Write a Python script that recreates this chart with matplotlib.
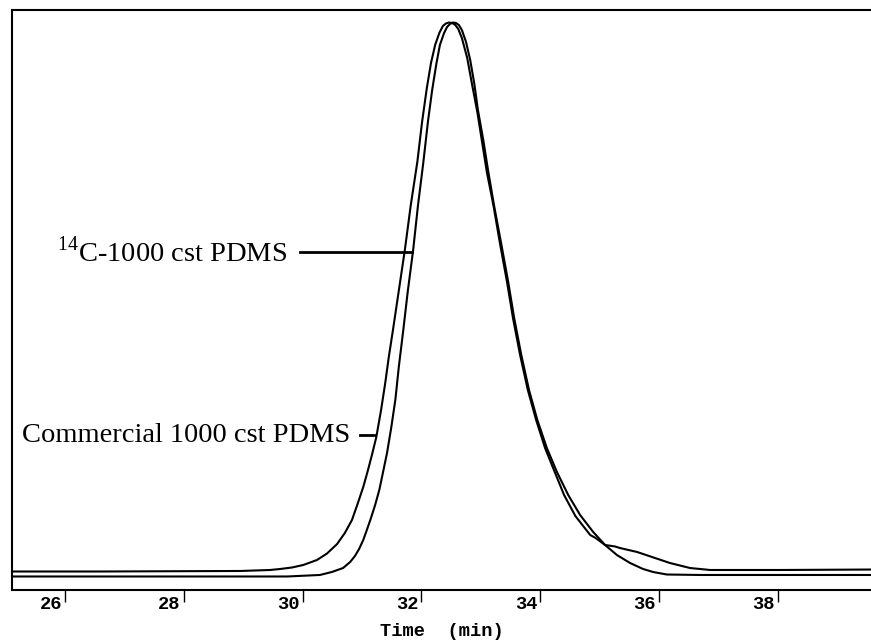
import matplotlib
matplotlib.use('Agg')
import matplotlib.pyplot as plt

# ================= DATA =================
# Commercial 1000 cst PDMS - broader trace, upper baseline, shoulder ~35.5 min
time_comm = [25.11, 26.59, 28.95, 29.45, 29.62, 29.82, 30.01, 30.24, 30.41, 30.58,
             30.71, 30.83, 30.93, 31.02, 31.10, 31.17, 31.24, 31.32, 31.39, 31.45,
             31.52, 31.62, 31.72, 31.82, 31.93, 32.01, 32.09, 32.16, 32.23, 32.30,
             32.36, 32.41, 32.46, 32.52, 32.57, 32.62, 32.68, 32.77, 32.85, 32.94,
             33.02, 33.10, 33.21, 33.32, 33.44, 33.54, 33.66, 33.79, 33.93, 34.08,
             34.25, 34.40, 34.59, 34.84, 34.93, 35.09, 35.26, 35.34, 35.63, 35.93,
             36.18, 36.52, 36.86, 38.04, 39.57]
resp_comm = [3.19, 3.19, 3.28, 3.45, 3.62, 3.88, 4.31, 5.17, 6.29, 7.93,
             9.83, 12.07, 15.0, 17.76, 20.69, 23.45, 26.38, 31.03, 35.69, 40.17,
             44.83, 51.72, 58.62, 66.38, 73.79, 80.69, 86.55, 90.86, 93.97, 96.03,
             97.24, 97.67, 97.84, 97.76, 97.41, 96.72, 95.17, 91.72, 87.24, 82.41,
             77.24, 72.07, 66.38, 59.83, 53.10, 46.90, 40.52, 34.48, 29.31, 24.48,
             20.17, 16.38, 12.76, 9.48, 8.97, 7.76, 7.50, 7.24, 6.55, 5.52,
             4.66, 3.79, 3.45, 3.45, 3.53]

# 14C-1000 cst PDMS - narrower trace, lower baseline
time_14c = [25.11, 29.74, 30.29, 30.49, 30.68, 30.80, 30.88, 30.95, 31.02, 31.08,
            31.15, 31.22, 31.29, 31.35, 31.42, 31.49, 31.56, 31.62, 31.69, 31.77,
            31.86, 31.94, 32.03, 32.11, 32.18, 32.25, 32.31, 32.38, 32.43, 32.48,
            32.53, 32.58, 32.63, 32.68, 32.75, 32.82, 32.89, 32.95, 33.04, 33.12,
            33.22, 33.34, 33.46, 33.56, 33.68, 33.81, 33.95, 34.11, 34.28, 34.47,
            34.67, 34.89, 35.09, 35.29, 35.51, 35.73, 35.90, 36.13, 36.69, 39.57]
resp_14c = [2.33, 2.33, 2.59, 3.10, 3.79, 4.83, 5.86, 7.07, 8.62, 10.34,
            12.41, 14.66, 17.24, 20.17, 23.62, 27.93, 32.76, 38.62, 44.48, 51.55,
            58.62, 66.21, 73.62, 80.86, 86.21, 90.69, 93.97, 96.03, 97.07, 97.59,
            97.84, 97.76, 97.41, 96.55, 94.48, 91.38, 87.24, 82.76, 77.59, 72.41,
            66.38, 59.83, 53.10, 46.90, 40.52, 34.48, 29.31, 24.48, 20.34, 16.38,
            12.93, 10.0, 7.76, 6.03, 4.66, 3.62, 3.10, 2.67, 2.59, 2.59]

tick_times = [26, 28, 30, 32, 34, 36, 38]
tick_labels = ['26', '28', '30', '32', '34', '36', '38']

# ================= FIGURE =================
fig = plt.figure(figsize=(8.71, 6.4), dpi=100)
ax = fig.add_axes([12 / 871, 50 / 640, 1 - 12 / 871, 580 / 640])

ax.plot(time_comm, resp_comm, color='black', lw=1.5, solid_joinstyle='round')
ax.plot(time_14c, resp_14c, color='black', lw=1.5, solid_joinstyle='round')

ax.set_xlim(25.108, 39.566)
ax.set_ylim(0, 100)

for side in ['left', 'bottom', 'top']:
    ax.spines[side].set_linewidth(1.5)
ax.spines['right'].set_visible(False)

ax.set_yticks([])
ax.set_xticks(tick_times)
ax.set_xticklabels([])
ax.tick_params(axis='x', direction='out', length=8.5, width=1.0)

mono = dict(family='Liberation Mono', size=13.5, weight='bold')

# tick labels sit left of each tick mark
for t, lab in zip(tick_times, tick_labels):
    ax.annotate(lab, xy=(t, 0), xycoords=('data', 'axes fraction'),
                xytext=(-3, -6), textcoords='offset pixels',
                ha='right', va='top', **mono)

fig.text(441.5 / 871, 4.5 / 640, 'Time  (min)', ha='center', va='baseline', **mono)

# ================= LABELS =================
plt.rcParams['mathtext.fontset'] = 'custom'
plt.rcParams['mathtext.rm'] = 'Liberation Serif'
serif = dict(family='Liberation Serif', size=20.5)

ax.text(29.74, 56.7, r'$^{\mathrm{14}}$C-1000 cst PDMS', ha='right', va='baseline', **serif)
ax.plot([29.96, 31.84], [58.3, 58.3], color='black', lw=2.0)

ax.text(30.80, 25.5, 'Commercial 1000 cst PDMS', ha='right', va='baseline', **serif)
ax.plot([30.97, 31.22], [26.7, 26.7], color='black', lw=2.0)

fig.savefig('out.png', dpi=100)
